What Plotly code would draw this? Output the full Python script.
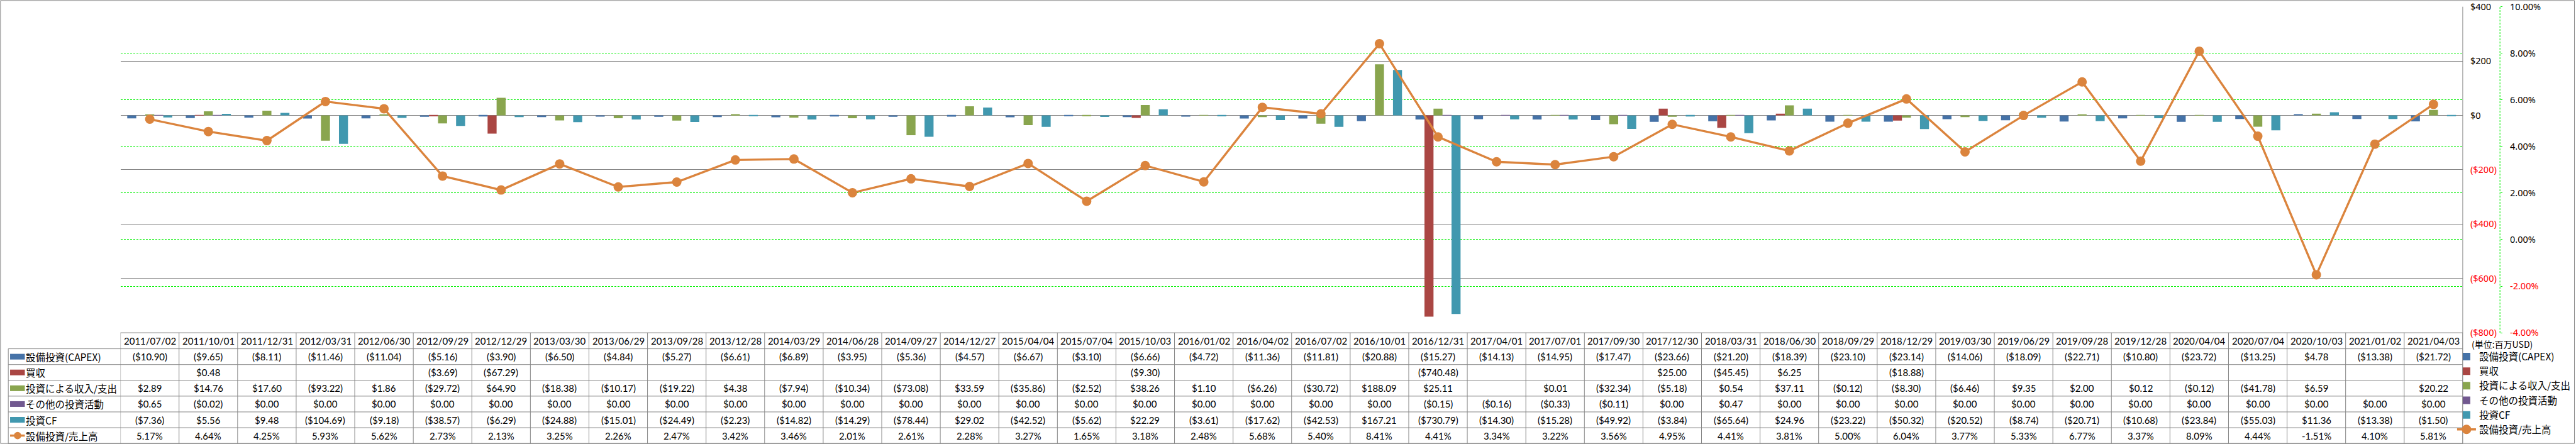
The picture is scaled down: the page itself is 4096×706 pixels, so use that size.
import plotly.graph_objects as go

# ---------------- data ----------------
dates = ["2011/07/02", "2011/10/01", "2011/12/31", "2012/03/31", "2012/06/30", "2012/09/29",
         "2012/12/29", "2013/03/30", "2013/06/29", "2013/09/28", "2013/12/28", "2014/03/29",
         "2014/06/28", "2014/09/27", "2014/12/27", "2015/04/04", "2015/07/04", "2015/10/03",
         "2016/01/02", "2016/04/02", "2016/07/02", "2016/10/01", "2016/12/31", "2017/04/01",
         "2017/07/01", "2017/09/30", "2017/12/30", "2018/03/31", "2018/06/30", "2018/09/29",
         "2018/12/29", "2019/03/30", "2019/06/29", "2019/09/28", "2019/12/28", "2020/04/04",
         "2020/07/04", "2020/10/03", "2021/01/02", "2021/04/03"]

capex = [-10.90, -9.65, -8.11, -11.46, -11.04, -5.16, -3.90, -6.50, -4.84, -5.27, -6.61, -6.89,
         -3.95, -5.36, -4.57, -6.67, -3.10, -6.66, -4.72, -11.36, -11.81, -20.88, -15.27, -14.13,
         -14.95, -17.47, -23.66, -21.20, -18.39, -23.10, -23.14, -14.06, -18.09, -22.71, -10.80,
         -23.72, -13.25, 4.78, -13.38, -21.72]

acquisition = [None, 0.48, None, None, None, -3.69, -67.29, None, None, None, None, None,
               None, None, None, None, None, -9.30, None, None, None, None, -740.48, None,
               None, None, 25.00, -45.45, 6.25, None, -18.88, None, None, None, None,
               None, None, None, None, None]

invest_inout = [2.89, 14.76, 17.60, -93.22, 1.86, -29.72, 64.90, -18.38, -10.17, -19.22, 4.38,
                -7.94, -10.34, -73.08, 33.59, -35.86, -2.52, 38.26, 1.10, -6.26, -30.72, 188.09,
                25.11, None, 0.01, -32.34, -5.18, 0.54, 37.11, -0.12, -8.30, -6.46, 9.35, 2.00,
                0.12, -0.12, -41.78, 6.59, None, 20.22]

other_invest = [0.65, -0.02, 0.00, 0.00, 0.00, 0.00, 0.00, 0.00, 0.00, 0.00, 0.00, 0.00,
                0.00, 0.00, 0.00, 0.00, 0.00, 0.00, 0.00, 0.00, 0.00, 0.00, -0.15, -0.16,
                -0.33, -0.11, 0.00, 0.47, 0.00, 0.00, 0.00, 0.00, 0.00, 0.00, 0.00,
                0.00, 0.00, 0.00, 0.00, 0.00]

invest_cf = [-7.36, 5.56, 9.48, -104.69, -9.18, -38.57, -6.29, -24.88, -15.01, -24.49, -2.23,
             -14.82, -14.29, -78.44, 29.02, -42.52, -5.62, 22.29, -3.61, -17.62, -42.53, 167.21,
             -730.79, -14.30, -15.28, -49.92, -3.84, -65.64, 24.96, -23.22, -50.32, -20.52,
             -8.74, -20.71, -10.68, -23.84, -55.03, 11.36, -13.38, -1.50]

capex_ratio_pct = [5.17, 4.64, 4.25, 5.93, 5.62, 2.73, 2.13, 3.25, 2.26, 2.47, 3.42, 3.46,
                   2.01, 2.61, 2.28, 3.27, 1.65, 3.18, 2.48, 5.68, 5.40, 8.41, 4.41, 3.34,
                   3.22, 3.56, 4.95, 4.41, 3.81, 5.00, 6.04, 3.77, 5.33, 6.77, 3.37,
                   8.09, 4.44, -1.51, 4.10, 5.81]

bar_names = ["設備投資(CAPEX)", "買収", "投資による収入/支出", "その他の投資活動", "投資CF"]
line_name = "設備投資/売上高"
bar_values = [capex, acquisition, invest_inout, other_invest, invest_cf]

usd_ticks = [-800, -600, -400, -200, 0, 200, 400]
pct_ticks = [-4, -2, 0, 2, 4, 6, 8, 10]
unit_label = "(単位:百万USD)"

# ---------------- styling ----------------
W, H = 4096, 706
RW, RH = 4981.0, 858.0          # reference coordinate space
def fx(v):
    return v / RW
def fy(v):
    return 1 - v / RH

bar_colors = ["#4572A7", "#AA4643", "#89A54E", "#71588F", "#4198AF"]
line_color = "#DB843D"
grid_gray = "#868686"
green = "#00F000"
red = "#FF0000"
table_font = dict(family="Lato, Noto Sans, sans-serif", size=15, color="#000000")
cjk_font = dict(family="Noto Sans CJK JP, Noto Sans, sans-serif", size=15.5, color="#000000")
axis_font = dict(family="Noto Sans, DejaVu Sans, sans-serif", size=14.5, color="#000000")

PLOT_L, PLOT_R, PLOT_T, PLOT_B = 233, 4762, 13, 643
AXIS_X = 4834
TABLE_L = 16
ROW_EDGES = [643, 674, 704.5, 735, 765.5, 796, 826.5, 857]


def money(v):
    if v is None:
        return ""
    if v < 0:
        return "(${:.2f})".format(-v)
    return "${:.2f}".format(v)


def pct(v):
    return "{:.2f}%".format(v)


def usd_tick(v):
    if v < 0:
        return '<span style="color:%s">($%d)</span>' % (red, -v)
    return "$%d" % v


def pct_tick(v):
    s = "{:.2f}%".format(v)
    if v < 0:
        return '<span style="color:%s">%s</span>' % (red, s)
    return s


fig = go.Figure()
for name, vals, col in zip(bar_names, bar_values, bar_colors):
    fig.add_trace(go.Bar(x=dates, y=vals, name=name, marker=dict(color=col, line=dict(width=0)),
                         yaxis="y", legendgroup=name))
fig.add_trace(go.Scatter(x=dates, y=[v / 100 for v in capex_ratio_pct], name=line_name,
                         yaxis="y2", mode="lines+markers", legendgroup=line_name,
                         line=dict(color=line_color, width=3.4),
                         marker=dict(color=line_color, size=15)))

shapes = []
# outer chart border
shapes.append(dict(type="rect", xref="paper", yref="paper", x0=fx(1), x1=fx(4978), y0=fy(857), y1=fy(1),
                   line=dict(color=grid_gray, width=1), layer="below"))
# plot right edge, continuing through the data table
shapes.append(dict(type="line", xref="x domain", yref="paper", x0=1, x1=1, y0=fy(857), y1=fy(PLOT_T),
                   line=dict(color=grid_gray, width=1)))
# dashed secondary-axis line
shapes.append(dict(type="line", xref="paper", yref="y domain", x0=fx(AXIS_X), x1=fx(AXIS_X), y0=0, y1=1,
                   line=dict(color=green, width=1, dash="3px,2px")))
# data table grid
shapes.append(dict(type="line", xref="x domain", yref="paper", x0=0, x1=1, y0=fy(ROW_EDGES[0]), y1=fy(ROW_EDGES[0]),
                   line=dict(color=grid_gray, width=1)))
for e in ROW_EDGES[1:]:
    shapes.append(dict(type="line", xref="paper", yref="paper", x0=fx(TABLE_L), x1=fx(PLOT_R), y0=fy(e), y1=fy(e),
                       line=dict(color=grid_gray, width=1)))
for k in range(len(dates) + 1):
    shapes.append(dict(type="line", xref="x", yref="paper", x0=k - 0.5, x1=k - 0.5,
                       y0=fy(ROW_EDGES[-1]), y1=fy(ROW_EDGES[0]), line=dict(color=grid_gray, width=1)))
shapes.append(dict(type="line", xref="paper", yref="paper", x0=fx(TABLE_L), x1=fx(TABLE_L),
                   y0=fy(ROW_EDGES[-1]), y1=fy(ROW_EDGES[1]), line=dict(color=grid_gray, width=1)))

annotations = []
row_centers = [(ROW_EDGES[i] + ROW_EDGES[i + 1]) / 2 for i in range(len(ROW_EDGES) - 1)]
# header row (dates)
for d in dates:
    annotations.append(dict(x=d, xref="x", y=fy(row_centers[0]), yref="paper", text=d, showarrow=False,
                            font=table_font, xanchor="center", yanchor="middle"))
# value rows
table_rows = [[money(v) for v in vals] for vals in bar_values] + [[pct(v) for v in capex_ratio_pct]]
for r, row in enumerate(table_rows):
    yc = fy(row_centers[r + 1])
    for d, txt in zip(dates, row):
        if txt:
            annotations.append(dict(x=d, xref="x", y=yc, yref="paper", text=txt, showarrow=False,
                                    font=table_font, xanchor="center", yanchor="middle"))
# row headers with legend keys
all_names = bar_names + [line_name]
all_colors = bar_colors + [line_color]
for r, (name, col) in enumerate(zip(all_names, all_colors)):
    yc_full = row_centers[r + 1]
    annotations.append(dict(x=fx(47), xref="paper", y=fy(yc_full), yref="paper", text=name, showarrow=False,
                            font=cjk_font, xanchor="left", yanchor="middle"))
    if r < len(bar_names):
        shapes.append(dict(type="rect", xref="paper", yref="paper", x0=fx(19.5), x1=fx(48),
                           y0=fy(yc_full + 5.5), y1=fy(yc_full - 5.5), fillcolor=col, line=dict(width=0)))
    else:
        shapes.append(dict(type="line", xref="paper", yref="paper", x0=fx(19.5), x1=fx(48),
                           y0=fy(yc_full), y1=fy(yc_full), line=dict(color=col, width=3.4)))
        shapes.append(dict(type="circle", xref="paper", yref="paper", x0=fx(27), x1=fx(41),
                           y0=fy(yc_full + 7), y1=fy(yc_full - 7), fillcolor=col, line=dict(width=0)))
# unit label
annotations.append(dict(x=fx(4777), xref="paper", y=fy(665), yref="paper", text=unit_label, showarrow=False,
                        font=dict(family="Noto Sans CJK JP, sans-serif", size=14, color="#000000"),
                        xanchor="left", yanchor="middle"))

fig.update_layout(
    width=W, height=H, autosize=False,
    margin=dict(l=0, r=0, t=0, b=0, pad=0, autoexpand=False),
    paper_bgcolor="white", plot_bgcolor="white",
    barmode="group", bargap=0.23, bargroupgap=0,
    showlegend=True,
    legend=dict(x=fx(4745), xanchor="left", y=fy(669), yanchor="top", font=cjk_font,
                bgcolor="rgba(0,0,0,0)", tracegroupgap=1.3, traceorder="normal", itemwidth=30),
    xaxis=dict(type="category", domain=[fx(PLOT_L), fx(PLOT_R)], range=[-0.5, len(dates) - 0.5],
               showticklabels=False, showgrid=False, zeroline=False, showline=False, ticks="",
               anchor="y", fixedrange=True, automargin=False),
    yaxis=dict(domain=[fy(PLOT_B), fy(PLOT_T)], range=[-800, 400], tickmode="array",
               tickvals=usd_ticks, ticktext=[usd_tick(v) for v in usd_ticks],
               anchor="x", side="right", automargin=False, ticklabeloverflow="allow",
               showgrid=True, gridcolor=grid_gray, gridwidth=1, zeroline=False, showline=False,
               ticks="", tickfont=axis_font, ticklabelstandoff=11),
    yaxis2=dict(overlaying="y", range=[-0.04, 0.10], tickmode="array",
                tickvals=[v / 100 for v in pct_ticks], ticktext=[pct_tick(v) for v in pct_ticks],
                anchor="free", position=fx(AXIS_X), side="right", automargin=False,
                ticklabeloverflow="allow",
                showgrid=True, gridcolor=green, gridwidth=1, griddash="3px,2px", zeroline=False,
                showline=False, ticks="outside", ticklen=3, tickwidth=1, tickcolor=green,
                tickfont=axis_font, ticklabelstandoff=9),
    shapes=shapes,
    annotations=annotations,
)

fig.write_html("out.html", config={"displayModeBar": False},
               post_script="document.body.style.margin='0';document.body.style.overflow='hidden';")
